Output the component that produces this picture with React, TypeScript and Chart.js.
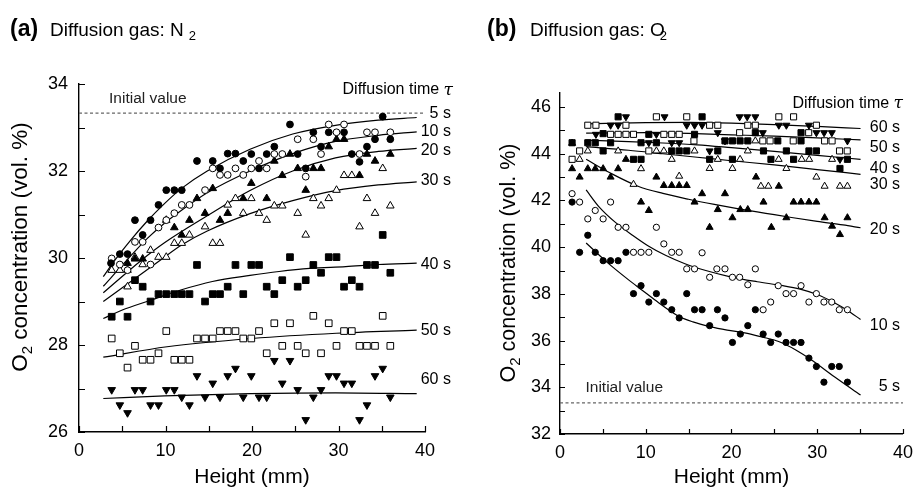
import { useEffect, useRef } from "react";
import { Chart, registerables } from "chart.js";

Chart.register(...registerables);

type P = [number, number];
const FONT = '"Liberation Sans", Arial, Helvetica, sans-serif';

// ---------------- Panel (a): diffusion gas N2 ----------------
const A_TIMES = ["5 s", "10 s", "20 s", "30 s", "40 s", "50 s", "60 s"];
const A_INITIAL = 33.33;

const A_5S: P[] = [[3.7,29.88],[4.72,30.09],[5.61,30.09],[6.47,30.87],[7.36,30.53],[8.27,30.87],[9.19,31.22],[10.09,31.56],[11.02,31.56],[11.88,31.56],[13.64,32.23],[15.46,32.23],[16.3,32.06],[17.19,32.4],[18.09,32.4],[18.99,32.23],[19.92,32.39],[20.81,32.06],[21.7,32.39],[22.58,32.56],[24.39,33.07],[25.28,32.39],[26.21,32.06],[27.09,32.89],[27.98,32.56],[28.87,32.89],[30.64,32.89],[31.54,32.39],[32.43,32.21],[33.29,32.56],[34.22,32.73],[35.11,33.25],[35.99,32.73]];
const A_10S: P[] = [[3.78,29.99],[4.72,29.85],[5.61,29.72],[6.47,30.37],[7.36,30.37],[8.27,29.85],[9.19,30.7],[10.09,30.87],[11.02,31.03],[11.88,31.22],[12.77,31.22],[14.57,31.56],[15.46,32.06],[16.3,31.91],[17.19,31.91],[18.09,32.06],[18.99,31.91],[19.92,32.06],[20.81,32.23],[21.7,32.06],[22.58,32.39],[23.5,32.39],[25.28,32.73],[26.21,31.87],[27.09,32.73],[27.98,32.39],[28.87,33.07],[29.77,32.89],[30.64,33.07],[32.43,32.39],[33.29,32.89],[34.22,32.89],[35.99,32.89]];
const A_20S: P[] = [[5.61,29.88],[6.47,29.98],[7.36,29.98],[10.09,30.87],[11.02,30.7],[11.88,30.53],[12.77,30.87],[13.64,31.37],[14.57,31.03],[15.46,31.6],[16.3,30.87],[17.19,31.03],[18.99,31.37],[19.92,31.72],[21.7,31.37],[22.58,32.23],[23.5,31.9],[24.39,32.39],[25.28,32.06],[26.21,31.56],[27.09,32.06],[27.98,32.06],[28.87,32.56],[29.77,32.73],[30.64,32.73],[32.43,31.9],[33.29,32.39],[34.22,32.23],[35.99,32.39]];
const A_30S: P[] = [[3.78,29.72],[4.72,29.72],[5.61,29.72],[5.61,29.34],[6.47,30.02],[7.36,29.85],[8.27,30.18],[9.19,30.02],[10.09,30.02],[11.02,30.34],[11.88,30.34],[12.77,30.53],[14.57,30.72],[15.46,30.34],[16.3,30.34],[17.19,31.22],[18.09,31.37],[18.99,31.03],[19.92,31.37],[20.81,31.03],[21.7,30.87],[22.58,31.2],[23.5,31.2],[25.28,31.03],[26.21,30.53],[27.09,31.37],[27.98,31.2],[28.87,31.37],[29.77,31.56],[30.64,31.9],[31.54,31.9],[32.43,30.72],[33.29,31.37],[34.22,31.03],[35.11,32.06],[35.99,31.2]];
const A_40S: P[] = [[3.78,28.65],[4.72,29.0],[5.61,28.65],[6.47,29.49],[7.36,29.34],[8.27,29.0],[9.19,29.17],[10.09,29.17],[11.02,29.17],[11.88,29.17],[12.77,29.17],[13.64,29.84],[14.57,29.0],[15.46,29.17],[16.3,29.17],[17.19,29.34],[18.09,29.84],[18.99,29.17],[19.92,29.84],[20.81,29.84],[21.7,29.34],[22.58,29.17],[23.5,29.49],[24.39,30.02],[25.28,29.34],[26.21,29.49],[27.09,29.84],[27.98,29.66],[28.87,30.02],[29.77,30.02],[30.64,29.34],[31.54,29.49],[32.43,29.34],[33.29,29.84],[34.22,29.84],[35.11,30.53],[35.99,29.66]];
const A_50S: P[] = [[3.78,28.15],[4.72,27.81],[5.61,27.48],[6.47,27.98],[7.36,27.66],[8.27,27.66],[9.19,27.81],[10.09,28.32],[11.02,27.66],[11.88,27.66],[12.77,27.66],[13.64,28.15],[14.57,28.15],[15.46,28.15],[16.3,28.32],[17.19,28.32],[18.09,28.32],[18.99,28.15],[19.92,28.15],[20.81,28.32],[21.7,27.81],[22.58,28.5],[23.5,27.98],[24.39,28.5],[25.28,27.98],[26.21,27.81],[27.09,28.67],[27.98,27.81],[28.87,28.5],[29.77,27.98],[30.64,28.32],[31.54,28.32],[32.43,27.98],[33.29,27.98],[34.22,27.98],[35.11,28.67],[35.99,27.98]];
const A_60S: P[] = [[3.78,26.97],[4.72,26.62],[5.61,26.44],[6.47,26.97],[7.36,26.97],[8.27,26.62],[9.19,26.62],[10.09,26.97],[11.02,26.97],[11.88,26.8],[12.77,26.62],[13.64,27.29],[14.57,26.8],[15.46,27.12],[16.3,26.8],[17.19,27.29],[18.09,27.46],[18.99,26.8],[19.92,27.29],[20.81,26.8],[21.7,26.8],[22.58,27.64],[23.5,27.12],[24.39,27.64],[25.28,26.97],[26.21,26.28],[27.09,26.8],[27.98,26.97],[28.87,27.29],[29.77,27.29],[30.64,27.12],[31.54,27.12],[32.43,26.28],[33.29,26.62],[34.22,27.29],[35.11,27.46],[35.99,26.8]];

const A_FIT_5S: P[] = [[2.81,29.57],[4.15,29.95],[5.93,30.4],[7.9,30.85],[9.88,31.25],[11.86,31.6],[14.83,32.0],[19.77,32.5],[24.71,32.85],[29.65,33.05],[34.59,33.17],[39.04,33.23]];
const A_FIT_10S: P[] = [[2.81,29.35],[5.53,29.95],[7.9,30.45],[9.88,30.8],[11.86,31.1],[14.83,31.5],[19.77,32.0],[24.71,32.4],[29.65,32.68],[34.59,32.82],[39.04,32.9]];
const A_FIT_20S: P[] = [[2.81,29.2],[7.22,29.95],[9.88,30.35],[14.83,30.97],[19.77,31.55],[24.71,32.0],[29.65,32.3],[34.59,32.45],[39.04,32.52]];
const A_FIT_30S: P[] = [[2.81,29.0],[9.39,29.95],[11.86,30.3],[14.83,30.62],[19.77,31.02],[24.71,31.32],[29.65,31.55],[34.59,31.68],[39.04,31.75]];
const A_FIT_40S: P[] = [[2.81,28.61],[4.94,28.8],[8.3,29.03],[11.86,29.27],[15.42,29.46],[19.77,29.6],[23.13,29.69],[26.69,29.76],[30.84,29.8],[34.59,29.85],[39.04,29.88]];
const A_FIT_50S: P[] = [[2.81,27.72],[10.18,27.96],[19.97,28.15],[29.75,28.27],[39.04,28.34]];
const A_FIT_60S: P[] = [[2.81,26.77],[9.88,26.83],[19.77,26.88],[29.65,26.9],[39.04,26.88]];

// ---------------- Panel (b): diffusion gas O2 ----------------
const B_TIMES = ["5 s", "10 s", "20 s", "30 s", "40 s", "50 s", "60 s"];
const B_INITIAL = 33.33;

const B_5S: P[] = [[1.41,41.93],[2.29,39.78],[3.24,40.51],[4.11,39.78],[5.03,39.42],[5.9,39.42],[6.78,39.42],[7.69,39.78],[8.57,38.01],[9.45,38.35],[10.36,37.65],[11.24,38.01],[12.11,37.65],[13.03,37.32],[13.9,36.97],[14.78,38.01],[15.69,37.32],[16.57,37.32],[17.45,36.64],[18.36,37.32],[19.24,36.97],[20.11,35.92],[21.03,36.28],[21.9,36.64],[22.78,37.32],[23.69,36.28],[24.57,35.92],[25.45,36.28],[26.36,35.92],[27.24,35.92],[28.11,35.92],[29.03,35.25],[29.9,34.89],[30.78,34.22],[31.69,34.89],[32.57,34.89],[33.52,34.22]];
const B_10S: P[] = [[1.41,42.29],[2.29,41.93],[3.24,41.21],[4.11,41.57],[5.03,41.21],[5.9,41.93],[6.78,40.85],[7.69,40.85],[8.57,39.78],[9.45,39.78],[10.36,39.78],[11.24,40.85],[12.11,40.14],[13.03,39.78],[13.9,39.78],[14.78,39.07],[15.69,39.07],[16.57,39.76],[17.45,38.71],[18.29,39.07],[19.24,39.07],[20.11,38.71],[20.95,38.71],[21.9,38.39],[22.78,39.07],[23.69,37.32],[24.57,37.65],[25.45,38.35],[26.36,38.01],[27.24,38.01],[28.11,38.35],[29.03,37.65],[29.9,38.01],[30.78,37.65],[31.69,37.65],[32.57,37.32],[33.52,37.32]];
const B_20S: P[] = [[1.41,44.45],[1.41,43.36],[2.29,43.0],[3.24,43.36],[4.11,43.36],[5.03,43.36],[5.9,43.0],[6.78,43.36],[7.69,43.76],[9.45,41.93],[10.36,41.57],[11.24,43.0],[12.11,42.64],[13.03,42.64],[13.9,42.64],[14.78,42.64],[15.69,41.93],[16.57,42.29],[17.45,40.85],[18.4,41.61],[19.24,42.29],[20.11,41.26],[21.03,41.61],[21.9,41.61],[22.86,43.0],[23.73,41.93],[24.65,40.85],[25.52,42.61],[26.4,41.26],[27.24,41.93],[28.11,41.93],[29.03,41.93],[29.9,41.93],[30.86,41.26],[31.73,40.9],[32.65,40.54],[33.52,41.26]];
const B_30S: P[] = [[2.29,43.76],[3.24,44.12],[6.78,44.12],[8.57,42.69],[9.45,43.36],[11.24,44.12],[12.11,44.12],[13.03,43.76],[13.9,43.04],[15.69,44.12],[17.45,43.37],[18.4,43.76],[20.11,43.37],[21.0,43.76],[21.9,44.12],[22.78,44.55],[23.43,42.61],[24.3,42.61],[25.5,43.76],[26.4,43.37],[28.19,43.76],[29.06,43.76],[29.9,43.0],[30.86,42.61],[31.73,43.76],[32.65,42.61],[33.52,42.61]];
const B_40S: P[] = [[1.41,44.47],[3.24,44.47],[4.11,44.47],[5.03,44.86],[5.03,44.12],[5.9,44.47],[6.78,45.58],[8.57,43.76],[9.45,43.76],[9.45,44.47],[10.36,44.83],[11.24,44.47],[13.03,44.12],[13.9,44.12],[14.78,44.12],[15.69,44.83],[16.57,45.58],[17.45,43.76],[18.4,44.12],[19.24,44.55],[20.11,44.55],[20.11,43.76],[21.0,44.55],[21.9,44.55],[22.78,44.9],[23.73,44.12],[24.6,43.76],[25.4,44.55],[26.4,44.12],[27.24,43.76],[28.11,44.9],[28.11,44.55],[29.03,44.12],[29.9,44.12],[32.65,43.37],[33.52,43.76]];
const B_50S: P[] = [[1.41,43.76],[2.29,44.12],[3.24,45.22],[4.19,45.22],[5.9,44.83],[6.78,44.83],[7.69,44.83],[7.69,45.22],[8.57,44.83],[10.36,44.12],[11.24,45.58],[12.11,44.83],[13.03,44.83],[13.9,44.83],[14.78,45.58],[15.62,44.55],[17.45,45.22],[18.4,45.22],[20.95,44.9],[21.9,45.22],[22.78,45.22],[23.65,44.55],[24.5,44.55],[25.52,45.58],[27.2,44.55],[27.24,45.58],[29.0,44.9],[29.9,45.22],[30.86,44.55],[31.73,44.55],[32.6,44.12],[33.5,44.12]];
const B_60S: P[] = [[4.19,44.83],[5.9,45.22],[6.78,45.22],[7.69,45.58],[10.36,44.47],[11.24,44.83],[12.19,45.58],[13.03,44.47],[13.9,44.47],[14.78,45.22],[15.7,45.22],[16.57,45.22],[17.45,44.12],[18.4,44.9],[19.24,44.55],[20.95,45.58],[21.83,45.58],[22.78,45.58],[23.65,44.9],[25.52,45.22],[26.4,45.22],[29.03,45.22],[29.9,44.9],[30.8,44.9],[31.7,44.9],[32.65,43.76],[33.52,44.55]];

const B_FIT_5S: P[] = [[3.05,40.18],[5.5,39.35],[8,38.6],[9.5,38.18],[11.5,37.62],[13.9,37.03],[15.5,36.8],[17.5,36.6],[19.5,36.45],[21.7,36.32],[23.5,36.16],[25.5,35.96],[27.5,35.6],[29.3,35.18],[32,34.45],[35.05,33.67]];
const B_FIT_10S: P[] = [[3.05,42.45],[4.5,41.75],[6.5,41.05],[8.5,40.5],[10.3,40.05],[12.3,39.65],[14.5,39.3],[17,39.0],[20,38.72],[23,38.52],[26,38.35],[28,38.2],[30,37.97],[32,37.62],[33.5,37.3],[35.05,36.9]];
const B_FIT_20S: P[] = [[3.05,43.76],[6,43.15],[9.1,42.61],[12,42.3],[15,42.05],[18,41.83],[21,41.63],[24,41.45],[27,41.27],[30,41.1],[33,40.95],[35.05,40.83]];
const B_FIT_30S: P[] = [[3.05,44.3],[8,44.15],[12,44.0],[16,43.85],[20,43.7],[25,43.52],[30,43.32],[35.05,43.12]];
const B_FIT_40S: P[] = [[3.05,44.58],[8,44.52],[12,44.46],[16,44.38],[20,44.26],[25,44.1],[30,43.93],[35.05,43.76]];
const B_FIT_50S: P[] = [[3.05,44.88],[10,44.9],[15,44.87],[20,44.81],[25,44.75],[30,44.68],[35.05,44.59]];
const B_FIT_60S: P[] = [[3.05,45.28],[10,45.33],[15,45.34],[20,45.31],[25,45.25],[30,45.17],[35.05,45.08]];

// ---------------- styling / layout (not data) ----------------
const MARKERS = [
  { style: "circle", filled: true, rot: 0 },
  { style: "circle", filled: false, rot: 0 },
  { style: "triangle", filled: true, rot: 0 },
  { style: "triangle", filled: false, rot: 0 },
  { style: "rect", filled: true, rot: 0 },
  { style: "rect", filled: false, rot: 0 },
  { style: "triangle", filled: true, rot: 180 },
];
const RADIUS: Record<string, number> = { circle: 3.4, triangle: 4.4, rect: 4.7 };

const pts = (a: P[]) => a.map(([x, y]) => ({ x, y }));

function buildDatasets(series: P[][], fits: P[][], initial: number, scale: number) {
  const ds: any[] = [];
  series.forEach((s, i) => {
    const m = MARKERS[i];
    ds.push({
      type: "scatter",
      data: pts(s),
      showLine: false,
      order: 0,
      pointStyle: m.style,
      pointRotation: m.rot,
      pointRadius: RADIUS[m.style] * scale,
      pointBackgroundColor: m.filled ? "#000" : "#fff",
      pointBorderColor: "#000",
      pointBorderWidth: 1,
    });
  });
  fits.forEach((f) => {
    ds.push({
      type: "line",
      data: pts(f),
      order: 1,
      borderColor: "#000",
      borderWidth: 1.2,
      pointRadius: 0,
      cubicInterpolationMode: "monotone",
      fill: false,
    });
  });
  ds.push({
    type: "line",
    data: pts([[0, initial], [40, initial]]),
    order: 2,
    borderColor: "#666",
    borderWidth: 1.2,
    borderDash: [3, 2.5],
    pointRadius: 0,
    tension: 0,
    fill: false,
  });
  return ds;
}

const decorPlugin = {
  id: "decor",
  afterDraw(chart: any, _a: any, o: any) {
    const { ctx, chartArea: ca } = chart;
    const xs = chart.scales.x;
    const ys = chart.scales.y;
    ctx.save();
    // inward tick marks
    ctx.strokeStyle = "#000";
    ctx.lineWidth = 1.2;
    ctx.beginPath();
    for (let v = ys.min; v <= ys.max + 1e-6; v += 1) {
      const py = Math.round(ys.getPixelForValue(v)) + 0.5;
      ctx.moveTo(ca.left, py);
      ctx.lineTo(ca.left + o.tickLen, py);
    }
    for (let v = xs.min; v <= xs.max + 1e-6; v += 5) {
      const px = Math.round(xs.getPixelForValue(v)) + 0.5;
      ctx.moveTo(px, ca.bottom);
      ctx.lineTo(px, ca.bottom - o.tickLen);
    }
    ctx.stroke();

    ctx.fillStyle = "#000";
    // curve labels
    ctx.font = `16px ${FONT}`;
    ctx.textAlign = "right";
    ctx.textBaseline = "middle";
    o.labels.texts.forEach((t: string, i: number) => {
      ctx.fillText(t, xs.getPixelForValue(o.labels.x), ys.getPixelForValue(o.labels.ys[i]));
    });

    // Diffusion time tau
    {
      const rx = xs.getPixelForValue(o.diff.x);
      const ry = ys.getPixelForValue(o.diff.y);
      ctx.font = `italic 17px "DejaVu Serif", "Liberation Serif", serif`;
      const wt = ctx.measureText("\u03C4").width;
      ctx.font = `16px ${FONT}`;
      const main = "Diffusion time ";
      const wm = ctx.measureText(main).width;
      ctx.textAlign = "left";
      ctx.fillText(main, rx - wt - wm, ry);
      ctx.font = `italic 17px "DejaVu Serif", "Liberation Serif", serif`;
      ctx.fillText("\u03C4", rx - wt, ry);
    }

    // Initial value
    ctx.font = `15.5px ${FONT}`;
    ctx.textAlign = "left";
    ctx.fillStyle = "#222";
    ctx.fillText("Initial value", xs.getPixelForValue(o.init.x), ys.getPixelForValue(o.init.y));
    ctx.fillStyle = "#000";

    // X title
    ctx.font = `21px ${FONT}`;
    ctx.textAlign = "center";
    ctx.textBaseline = "middle";
    ctx.fillText("Height (mm)", (ca.left + ca.right) / 2, o.xTitleY);

    // Y title with subscript
    {
      const fs = o.yTitle.size;
      ctx.save();
      ctx.translate(o.yTitle.x, o.yTitle.y);
      ctx.rotate(-Math.PI / 2);
      ctx.textAlign = "left";
      ctx.textBaseline = "alphabetic";
      const mainF = `${fs}px ${FONT}`;
      const subF = `${Math.round(fs * 0.68)}px ${FONT}`;
      const rest = " concentration (vol. %)";
      ctx.font = mainF;
      const wO = ctx.measureText("O").width;
      const wR = ctx.measureText(rest).width;
      ctx.font = subF;
      const w2 = ctx.measureText("2").width;
      let sx = -(wO + w2 + wR) / 2;
      ctx.font = mainF;
      ctx.fillText("O", sx, 0);
      sx += wO;
      ctx.font = subF;
      ctx.fillText("2", sx, fs * 0.22);
      sx += w2;
      ctx.font = mainF;
      ctx.fillText(rest, sx, 0);
      ctx.restore();
    }

    // Panel heading
    {
      const h = o.heading;
      ctx.textAlign = "left";
      ctx.textBaseline = "alphabetic";
      ctx.font = `bold 23px ${FONT}`;
      ctx.fillText(h.tag, h.tagX, h.base);
      ctx.font = `19px ${FONT}`;
      ctx.fillText(h.text, h.textX, h.base);
      const w = ctx.measureText(h.text).width;
      ctx.font = `13px ${FONT}`;
      ctx.fillText(h.sub, h.textX + w + h.subDx, h.base + 4);
    }
    ctx.restore();
  },
};

function makeOptions(p: any) {
  return {
    responsive: false,
    animation: false,
    devicePixelRatio: 1,
    events: [],
    layout: { padding: { left: 0, right: p.padRight, top: p.padTop, bottom: 0 } },
    plugins: {
      legend: { display: false },
      tooltip: { enabled: false },
      title: { display: false },
      decor: p.decor,
    },
    scales: {
      x: {
        type: "linear",
        min: 0,
        max: 40,
        afterFit: (s: any) => { s.height = p.xHeight; },
        grid: { display: false, drawTicks: false },
        border: { display: true, color: "#000", width: 1.4 },
        ticks: { stepSize: 10, color: "#000", font: { family: FONT, size: 18 }, padding: 8, maxRotation: 0 },
      },
      y: {
        type: "linear",
        min: p.yMin,
        max: p.yMax,
        afterFit: (s: any) => { s.width = p.yWidth; },
        grid: { display: false, drawTicks: false },
        border: { display: true, color: "#000", width: 1.4 },
        ticks: { stepSize: 2, includeBounds: false, color: "#000", font: { family: FONT, size: 18 }, padding: p.yPad },
      },
    },
  };
}

const PANEL_A = {
  series: [A_5S, A_10S, A_20S, A_30S, A_40S, A_50S, A_60S],
  fits: [A_FIT_5S, A_FIT_10S, A_FIT_20S, A_FIT_30S, A_FIT_40S, A_FIT_50S, A_FIT_60S],
  initial: A_INITIAL,
  markerScale: 1,
  layout: {
    padRight: 35, padTop: 84, xHeight: 59, yWidth: 79, yPad: 11, yMin: 26, yMax: 34,
    decor: {
      tickLen: 6,
      labels: { texts: A_TIMES, x: 43.0, ys: [33.31, 32.9, 32.48, 31.77, 29.84, 28.34, 27.2] },
      diff: { x: 43.24, y: 33.86 },
      init: { x: 3.47, y: 33.66 },
      xTitleY: 477,
      yTitle: { x: 27, y: 247, size: 22.5 },
      heading: { tag: "(a)", tagX: 10, text: "Diffusion gas: N", textX: 50, sub: "2", subDx: 5, base: 36 },
    },
  },
};

const PANEL_B = {
  series: [B_5S, B_10S, B_20S, B_30S, B_40S, B_50S, B_60S],
  fits: [B_FIT_5S, B_FIT_10S, B_FIT_20S, B_FIT_30S, B_FIT_40S, B_FIT_50S, B_FIT_60S],
  initial: B_INITIAL,
  markerScale: 0.92,
  layout: {
    padRight: 11, padTop: 93, xHeight: 57, yWidth: 100, yPad: 9, yMin: 32, yMax: 46.6,
    decor: {
      tickLen: 5,
      labels: { texts: B_TIMES, x: 39.66, ys: [34.02, 36.64, 40.76, 42.69, 43.37, 44.27, 45.13] },
      diff: { x: 40.0, y: 46.16 },
      init: { x: 2.97, y: 33.97 },
      xTitleY: 477,
      yTitle: { x: 55, y: 263, size: 21.5 },
      heading: { tag: "(b)", tagX: 27, text: "Diffusion gas: O", textX: 70, sub: "2", subDx: -5, base: 36 },
    },
  },
};

function Panel({ panel, left, width }: { panel: any; left: number; width: number }) {
  const ref = useRef<HTMLCanvasElement | null>(null);
  useEffect(() => {
    if (!ref.current) return;
    const chart = new Chart(ref.current, {
      type: "scatter",
      data: { datasets: buildDatasets(panel.series, panel.fits, panel.initial, panel.markerScale) },
      options: makeOptions(panel.layout) as any,
      plugins: [decorPlugin as any],
    });
    return () => chart.destroy();
  }, [panel]);
  return (
    <canvas
      ref={ref}
      width={width}
      height={491}
      style={{ position: "absolute", left, top: 0, width, height: 491 }}
    />
  );
}

export default function App() {
  return (
    <div style={{ position: "fixed", left: 0, top: 0, width: 921, height: 491, background: "#fff", overflow: "hidden" }}>
      <Panel panel={PANEL_A} left={0} width={460} />
      <Panel panel={PANEL_B} left={460} width={461} />
    </div>
  );
}
